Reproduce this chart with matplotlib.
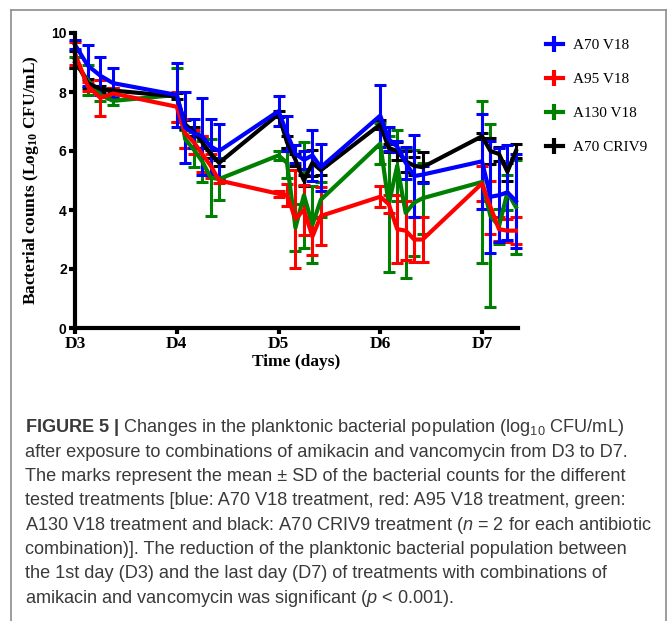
import matplotlib
matplotlib.use("Agg")
import matplotlib.pyplot as plt
from matplotlib.lines import Line2D
import numpy as np

# sampling hours inside each treatment day (D3 .. D7)
day_hours = {
    0: [0, 3, 6, 9],
    1: [0, 2, 4, 6, 8, 10],
    2: [0, 2, 4, 6, 8, 10],
    3: [0, 2, 4, 6, 8, 10],
    4: [0, 2, 4, 6, 8],
}
times = [d + h / 24 for d in day_hours for h in day_hours[d]]

day_labels = ["D3", "D4", "D5", "D6", "D7"]

# mean log10 CFU/mL and SD
blue_mean = [9.6, 8.9, 8.55, 8.3,
             7.9, 6.8, 6.6, 6.5, 6.15, 6.0,
             7.35, 6.6, 5.9, 5.7, 5.85, 5.45,
             7.2, 6.4, 6.15, 5.6, 5.15, 5.2,
             5.65, 4.45, 4.5, 4.6, 4.3]
blue_sd = [0.15, 0.7, 0.65, 0.5,
           1.1, 1.2, 0.5, 1.3, 0.95, 0.9,
           0.5, 0.6, 0.3, 0.3, 0.85, 0.8,
           1.05, 0.4, 0.2, 0.55, 1.4, 0.3,
           1.6, 1.9, 1.6, 1.6, 1.6]

red_mean = [9.3, 8.2, 7.8, 7.95,
            7.5, 6.6, 6.3, 5.9, 5.5, 5.0,
            4.55, 4.5, 3.7, 4.0, 3.1, 3.8,
            4.45, 4.2, 3.35, 3.3, 3.0, 3.0,
            4.9, 4.1, 3.35, 3.3, 3.3]
red_sd = [0.4, 0.15, 0.6, 0.2,
          0.5, 0.5, 0.4, 0.6, 0.4, 0.1,
          0.1, 0.37, 1.65, 0.85, 0.62, 0.98,
          0.35, 0.3, 1.15, 1.0, 0.77, 0.75,
          0.6, 0.9, 0.4, 0.4, 0.45]

green_mean = [9.0, 8.4, 7.9, 7.7,
              7.9, 6.4, 6.05, 5.65, 5.1, 5.05,
              5.85, 5.6, 3.4, 4.5, 3.5, 4.35,
              6.25, 4.2, 5.5, 3.9, 4.25, 4.4,
              4.95, 3.8, 3.45, 4.6, 4.1]
green_sd = [0.2, 0.5, 0.2, 0.15,
            0.9, 0.3, 0.6, 0.7, 1.3, 0.7,
            0.15, 0.5, 0.8, 1.8, 1.3, 0.6,
            0.7, 2.3, 1.2, 2.2, 1.8, 1.2,
            2.75, 3.1, 0.6, 0.6, 1.6]

black_mean = [9.1, 8.3, 8.1, 8.05,
              7.85, 6.9, 6.65, 6.3, 5.9, 5.6,
              7.25, 6.3, 5.7, 5.0, 5.6, 5.35,
              6.9, 6.1, 6.0, 5.65, 5.5, 5.45,
              6.5, 6.0, 5.9, 5.3, 6.0]
black_sd = [0.3, 0.15, 0.1, 0.1,
            0.1, 0.15, 0.15, 0.2, 0.15, 0.1,
            0.1, 0.2, 0.2, 0.2, 0.45, 0.15,
            0.15, 0.15, 0.3, 0.35, 0.3, 0.5,
            0.1, 0.45, 0.25, 0.3, 0.25]

series = [
    ("A130 V18", green_mean, green_sd, "#008000"),
    ("A70 CRIV9", black_mean, black_sd, "black"),
    ("A95 V18", red_mean, red_sd, "#ff0000"),
    ("A70 V18", blue_mean, blue_sd, "#0000ff"),
]
legend_order = ["A70 V18", "A95 V18", "A130 V18", "A70 CRIV9"]

plt.rcParams["mathtext.fontset"] = "custom"
plt.rcParams["mathtext.rm"] = "Liberation Sans"
plt.rcParams["mathtext.it"] = "Liberation Sans:italic"
plt.rcParams["mathtext.bf"] = "Liberation Sans:bold"

fig = plt.figure(figsize=(6.71, 6.21), dpi=100)
ax = fig.add_axes([75 / 671, 1 - 328 / 621, 443 / 671, 295 / 621])

handles = {}
for name, m, s, c in series:
    ax.errorbar(times, m, yerr=s, color=c, lw=3, elinewidth=2.2,
                capsize=4.5, capthick=2.2, clip_on=False)
    handles[name] = Line2D([], [], color=c, lw=3, marker="|",
                           markersize=12, markeredgewidth=3)

ax.set_xlim(0, 443 / 101.75)
ax.set_ylim(0, 10)
ax.set_xticks(range(5))
ax.set_xticklabels(day_labels, fontfamily="Liberation Serif",
                   fontweight="bold", fontsize=12.5)
ax.set_yticks(range(0, 11, 2))
ax.set_yticklabels([str(v) for v in range(0, 11, 2)],
                   fontfamily="Liberation Sans", fontweight="bold", fontsize=10)
for side in ["top", "right"]:
    ax.spines[side].set_visible(False)
for side in ["left", "bottom"]:
    ax.spines[side].set_linewidth(3)
ax.tick_params(width=3, length=4, pad=2)
ax.set_xlabel("Time (days)", fontfamily="Liberation Serif",
              fontweight="bold", fontsize=12.5, labelpad=1)
ax.set_ylabel(r"Bacterial counts (Log$\mathregular{_{10}}$ CFU/mL)",
              fontfamily="Liberation Serif", fontweight="bold", fontsize=12.5,
              labelpad=7)

fig.legend([handles[n] for n in legend_order], legend_order,
           loc="upper left", bbox_to_anchor=(532 / 671, 1 - 25 / 621),
           frameon=False, handlelength=1.1, handletextpad=0.7,
           labelspacing=1.33, prop={"family": "Liberation Serif", "size": 11})

# border of the figure panel
for xs, ys in [([11, 11], [10, 621]), ([11, 666], [10, 10]),
               ([666, 666], [10, 621])]:
    fig.add_artist(Line2D([x / 671 for x in xs], [1 - y / 621 for y in ys],
                          color="#8c8c8c", lw=1.2))

caption = [
    r"$\mathbf{FIGURE\ 5\ |}$ Changes in the planktonic bacterial population (log$\mathregular{_{10}}$ CFU/mL)",
    "after exposure to combinations of amikacin and vancomycin from D3 to D7.",
    "The marks represent the mean \u00b1 SD of the bacterial counts for the different",
    "tested treatments [blue: A70 V18 treatment, red: A95 V18 treatment, green:",
    r"A130 V18 treatment and black: A70 CRIV9 treatment ($\mathit{n}$ = 2 for each antibiotic",
    "combination)]. The reduction of the planktonic bacterial population between",
    "the 1st day (D3) and the last day (D7) of treatments with combinations of",
    r"amikacin and vancomycin was significant ($\mathit{p}$ < 0.001).",
]
for i, line in enumerate(caption):
    fig.text(25 / 671, 1 - (428 + i * 24.3) / 621, line,
             fontfamily="Liberation Sans", fontsize=13.1, color="#3a3a3a",
             va="center", ha="left")

fig.savefig("out.png", dpi=100)
